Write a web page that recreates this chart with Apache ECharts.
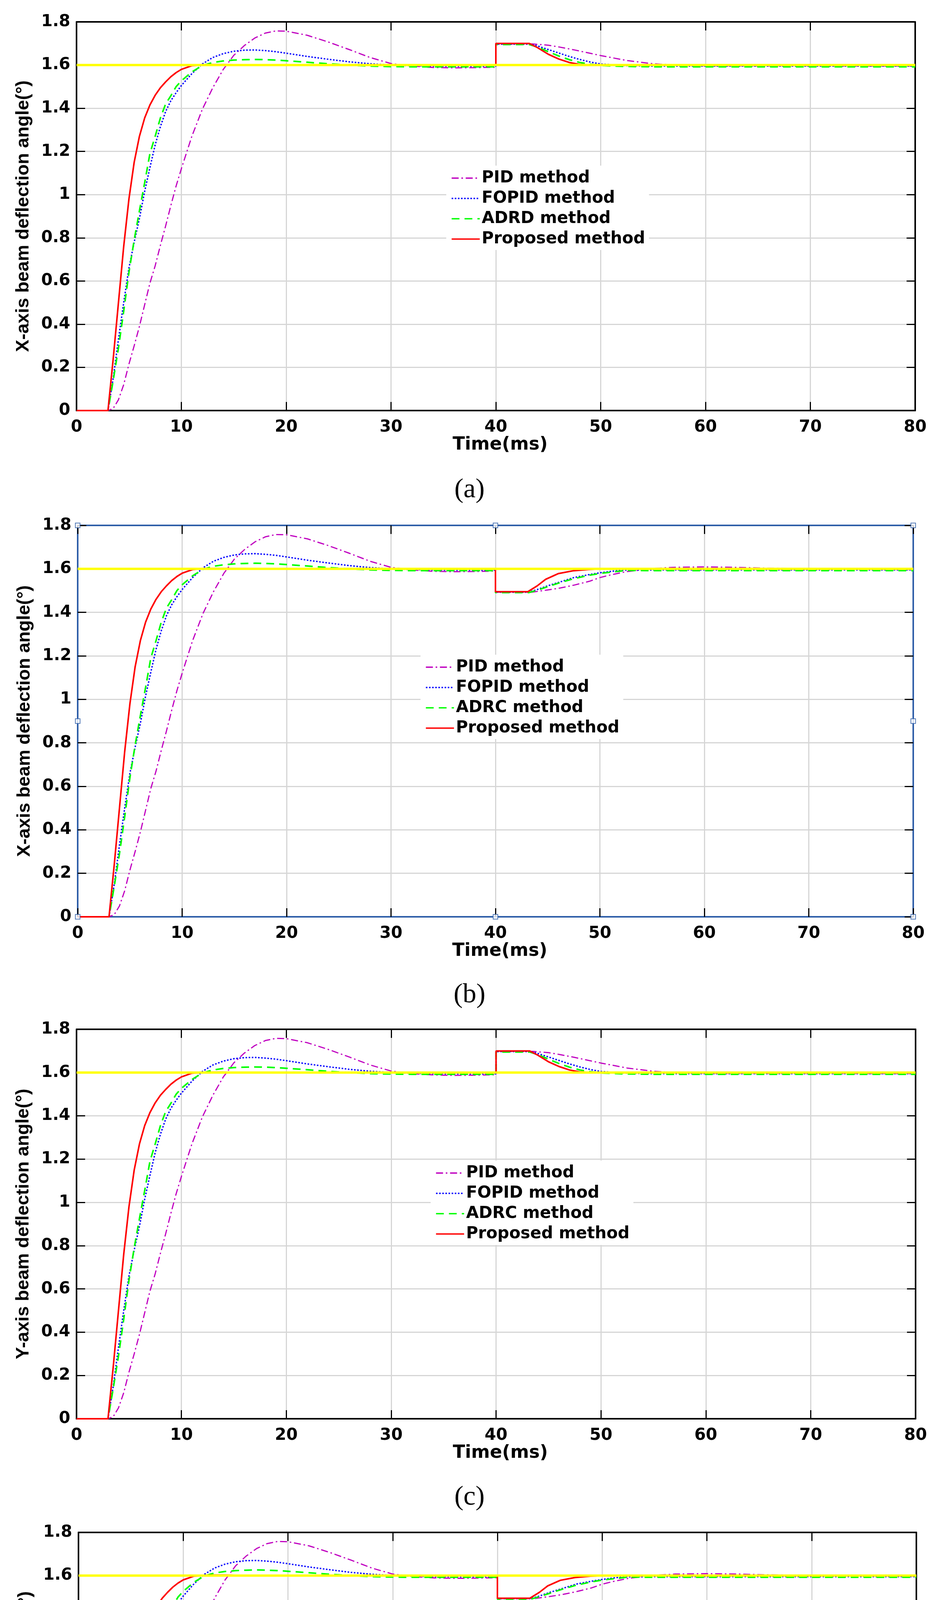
<!DOCTYPE html>
<html>
<head>
<meta charset="utf-8">
<title>Beam deflection angle</title>
<script src="https://cdn.jsdelivr.net/npm/echarts@6/dist/echarts.min.js"></script>
<style>
    html, body { margin: 0; padding: 0; background: #fff; }
    #chart { width: 2405px; height: 5184px; }
</style>
</head>
<body>
<div id="chart"></div>
<script>
// rise part (0-40 ms), same in every panel
var riseTime = [0, 3, 3.5, 4, 4.5, 5, 5.5, 6, 6.5, 7, 7.5, 8, 8.5, 9, 9.5, 10,
    11, 12, 13, 14, 15, 16, 17, 18, 19, 20,
    22, 24, 26, 28, 30, 32, 34, 36, 38, 40];
var pidRise = [0, 0, 0.01, 0.05, 0.12, 0.215, 0.3, 0.39, 0.49, 0.59, 0.67, 0.765, 0.855, 0.95, 1.04, 1.12,
    1.27, 1.395, 1.495, 1.58, 1.645, 1.69, 1.725, 1.748, 1.758, 1.757,
    1.738, 1.707, 1.672, 1.635, 1.607, 1.595, 1.589, 1.587, 1.588, 1.59];
var fopidRise = [0, 0, 0.15, 0.33, 0.5, 0.66, 0.78, 0.89, 1.015, 1.125, 1.23, 1.315, 1.385, 1.435, 1.472, 1.505,
    1.56, 1.605, 1.635, 1.653, 1.664, 1.669, 1.67, 1.667, 1.662, 1.655,
    1.64, 1.627, 1.615, 1.606, 1.6, 1.597, 1.595, 1.594, 1.594, 1.594];
var adrcRise = [0, 0, 0.14, 0.29, 0.46, 0.64, 0.79, 0.925, 1.055, 1.19, 1.27, 1.355, 1.42, 1.458, 1.5, 1.527,
    1.568, 1.598, 1.612, 1.619, 1.623, 1.625, 1.626, 1.625, 1.623, 1.62,
    1.613, 1.606, 1.6, 1.595, 1.593, 1.592, 1.592, 1.592, 1.592, 1.592];
var propRise = [0, 0, 0.24, 0.5, 0.76, 0.98, 1.15, 1.27, 1.355, 1.415, 1.46, 1.495, 1.522, 1.546, 1.565, 1.58,
    1.597, 1.601, 1.602, 1.602, 1.601, 1.601, 1.6, 1.6, 1.6, 1.6,
    1.6, 1.6, 1.6, 1.6, 1.6, 1.6, 1.6, 1.6, 1.6, 1.6];

// disturbance at 40 ms, upward step (a, c)
var pidUp = [[40, 1.59], [40, 1.698], [43.5, 1.698], [45, 1.692], [46, 1.684], [47.5, 1.67], [50, 1.644],
    [52.5, 1.621], [55, 1.606], [57, 1.6], [60, 1.596], [80, 1.595]];
var fopidUp = [[40, 1.594], [40, 1.697], [43.3, 1.697], [44, 1.688], [45, 1.672], [46, 1.656], [47, 1.64],
    [48, 1.626], [49, 1.614], [50, 1.605], [52, 1.598], [55, 1.595], [80, 1.595]];
var adrcUp = [[40, 1.592], [40, 1.695], [43.2, 1.695], [44, 1.683], [45, 1.662], [46, 1.642], [47, 1.625],
    [48, 1.612], [49, 1.604], [50, 1.598], [52, 1.594], [55, 1.592], [80, 1.592]];
var propUp = [[40, 1.6], [40, 1.7], [43.2, 1.7], [44, 1.68], [44.5, 1.665], [45, 1.65], [46, 1.628],
    [47, 1.612], [48, 1.603], [49, 1.6], [80, 1.6]];

// disturbance at 40 ms, downward step (b, d)
var pidDown = [[40, 1.59], [40, 1.493], [43.5, 1.493], [45, 1.503], [46.2, 1.512], [47.5, 1.525], [49, 1.543],
    [50, 1.56], [51, 1.572], [52.5, 1.587], [55, 1.601], [57, 1.607], [60, 1.609], [63, 1.607], [66, 1.603],
    [70, 1.6], [75, 1.598], [80, 1.597]];
var fopidDown = [[40, 1.594], [40, 1.493], [43.2, 1.493], [44, 1.505], [45, 1.522], [46.2, 1.54], [47.5, 1.56],
    [49, 1.574], [50, 1.582], [52, 1.594], [55, 1.595], [80, 1.595]];
var adrcDown = [[40, 1.592], [40, 1.491], [43.2, 1.491], [44, 1.502], [45, 1.518], [46.2, 1.537], [47.5, 1.555],
    [49, 1.571], [50, 1.579], [52.5, 1.593], [55, 1.592], [80, 1.592]];
var propDown = [[40, 1.6], [40, 1.495], [43.1, 1.495], [44, 1.522], [44.8, 1.552], [46, 1.578], [47.4, 1.591],
    [48.9, 1.597], [50, 1.6], [80, 1.6]];

var refLevel = [[0, 1.6], [80, 1.6]];
// selection handles around panel (b)
var handlePoints = [[0, 0], [40, 0], [80, 0], [0, 0.9], [80, 0.9], [0, 1.8], [40, 1.8], [80, 1.8]];

var panels = [
    {tag: '(a)', yName: 'X-axis beam deflection angle(°)', adrc: 'ADRD method', step: 'up', frame: '#000',
        grid: {left: 196, top: 56, width: 2148, height: 995}, legend: {left: 1143, top: 424}, captionTop: 1220},
    {tag: '(b)', yName: 'X-axis beam deflection angle(°)', adrc: 'ADRC method', step: 'down', frame: '#2e5ea8', handles: true,
        grid: {left: 199, top: 1345, width: 2140, height: 1002}, legend: {left: 1077, top: 1676}, captionTop: 2513},
    {tag: '(c)', yName: 'Y-axis beam deflection angle(°)', adrc: 'ADRC method', step: 'up', frame: '#000',
        grid: {left: 196, top: 2635, width: 2149, height: 997}, legend: {left: 1103, top: 2971}, captionTop: 3799},
    {tag: '(d)', yName: 'Y-axis beam deflection angle(°)', adrc: 'ADRC method', step: 'down', frame: '#000',
        grid: {left: 201, top: 3923, width: 2146, height: 994}, legend: {left: 1085, top: 4263}, captionTop: 5086}
];

var tickFont = {color: '#000', fontFamily: 'DejaVu Sans', fontWeight: 'bold', fontSize: 42};

function joinRise(values, tail) {
    var out = [];
    for (var i = 0; i < riseTime.length; i++) {
        out.push([riseTime[i], values[i]]);
    }
    return out.concat(tail);
}

function axisPair(kind, idx, p, main) {
    var isX = kind === 'x';
    var axis = {
        type: 'value',
        gridIndex: idx,
        min: 0,
        max: isX ? 80 : 1.8,
        interval: isX ? 10 : 0.2,
        position: isX ? (main ? 'bottom' : 'top') : (main ? 'left' : 'right'),
        axisLine: {show: true, onZero: false, lineStyle: {color: p.frame, width: 4}},
        axisTick: {show: true, inside: true, length: 22, lineStyle: {color: '#000', width: 3}},
        axisLabel: {show: false},
        splitLine: {show: false}
    };
    if (main) {
        axis.splitLine = {show: true, lineStyle: {color: '#d6d6d6', width: 3}};
        axis.axisLabel = Object.assign({show: true, margin: isX ? 22 : 16,
            formatter: function (v) { return String(+v.toFixed(1)); }}, tickFont);
        axis.nameLocation = 'middle';
        if (isX) {
            axis.name = 'Time(ms)';
            axis.nameGap = 60;
            axis.nameTextStyle = {color: '#000', fontFamily: 'DejaVu Sans', fontWeight: 'bold', fontSize: 46,
                padding: [0, 0, 0, 22]};
        } else {
            axis.name = p.yName;
            axis.nameGap = 112;
            axis.nameTextStyle = {color: '#000', fontFamily: 'Liberation Sans', fontWeight: 'bold', fontSize: 47};
        }
    }
    return axis;
}

function lineSeries(name, idx, data, color, width, dash, z) {
    return {
        name: name,
        type: 'line',
        xAxisIndex: idx * 2,
        yAxisIndex: idx * 2,
        data: data,
        symbol: 'none',
        showSymbol: false,
        z: z,
        lineStyle: {color: color, width: width, type: dash},
        itemStyle: {color: color}
    };
}

var option = {
    animation: false,
    backgroundColor: '#fff',
    title: [],
    legend: [],
    grid: [],
    xAxis: [],
    yAxis: [],
    series: []
};

panels.forEach(function (p, i) {
    var up = p.step === 'up';
    option.grid.push(Object.assign({containLabel: false}, p.grid));
    option.xAxis.push(axisPair('x', i, p, true), axisPair('x', i, p, false));
    option.yAxis.push(axisPair('y', i, p, true), axisPair('y', i, p, false));

    option.series.push(
        lineSeries('PID method', i, joinRise(pidRise, up ? pidUp : pidDown), '#c000c0', 3, [18, 7, 4, 7], 2),
        lineSeries('FOPID method', i, joinRise(fopidRise, up ? fopidUp : fopidDown), '#0000ff', 3.5, [4, 4], 3),
        lineSeries(p.adrc, i, joinRise(adrcRise, up ? adrcUp : adrcDown), '#00ff00', 4, [20, 13], 4),
        lineSeries('Proposed method', i, joinRise(propRise, up ? propUp : propDown), '#ff0000', 4, 'solid', 5),
        lineSeries('Reference', i, refLevel, '#ffff00', 6, 'solid', 6)
    );
    if (p.handles) {
        option.series.push({
            type: 'scatter',
            xAxisIndex: i * 2,
            yAxisIndex: i * 2,
            data: handlePoints,
            symbol: 'rect',
            symbolSize: 12,
            clip: false,
            silent: true,
            z: 10,
            itemStyle: {color: '#fff', borderColor: p.frame, borderWidth: 2}
        });
    }

    // itemHeight kept tiny so the default circle of a line legend icon disappears
    option.legend.push({
        orient: 'vertical',
        left: p.legend.left,
        top: p.legend.top,
        data: ['PID method', 'FOPID method', p.adrc, 'Proposed method'],
        itemWidth: 72,
        itemHeight: 2,
        itemGap: 8,
        padding: [10, 10, 6, 12],
        backgroundColor: '#fff',
        selectedMode: false,
        itemStyle: {opacity: 0},
        lineStyle: {width: 3.5},
        textStyle: {color: '#000', fontFamily: 'DejaVu Sans', fontWeight: 'bold', fontSize: 42, lineHeight: 44}
    });

    option.title.push({
        text: p.tag,
        left: 'center',
        top: p.captionTop,
        padding: 0,
        textStyle: {color: '#000', fontFamily: 'Liberation Serif', fontWeight: 'normal', fontSize: 70}
    });
});

var chart = echarts.init(document.getElementById('chart'));
chart.setOption(option);
</script>
</body>
</html>
